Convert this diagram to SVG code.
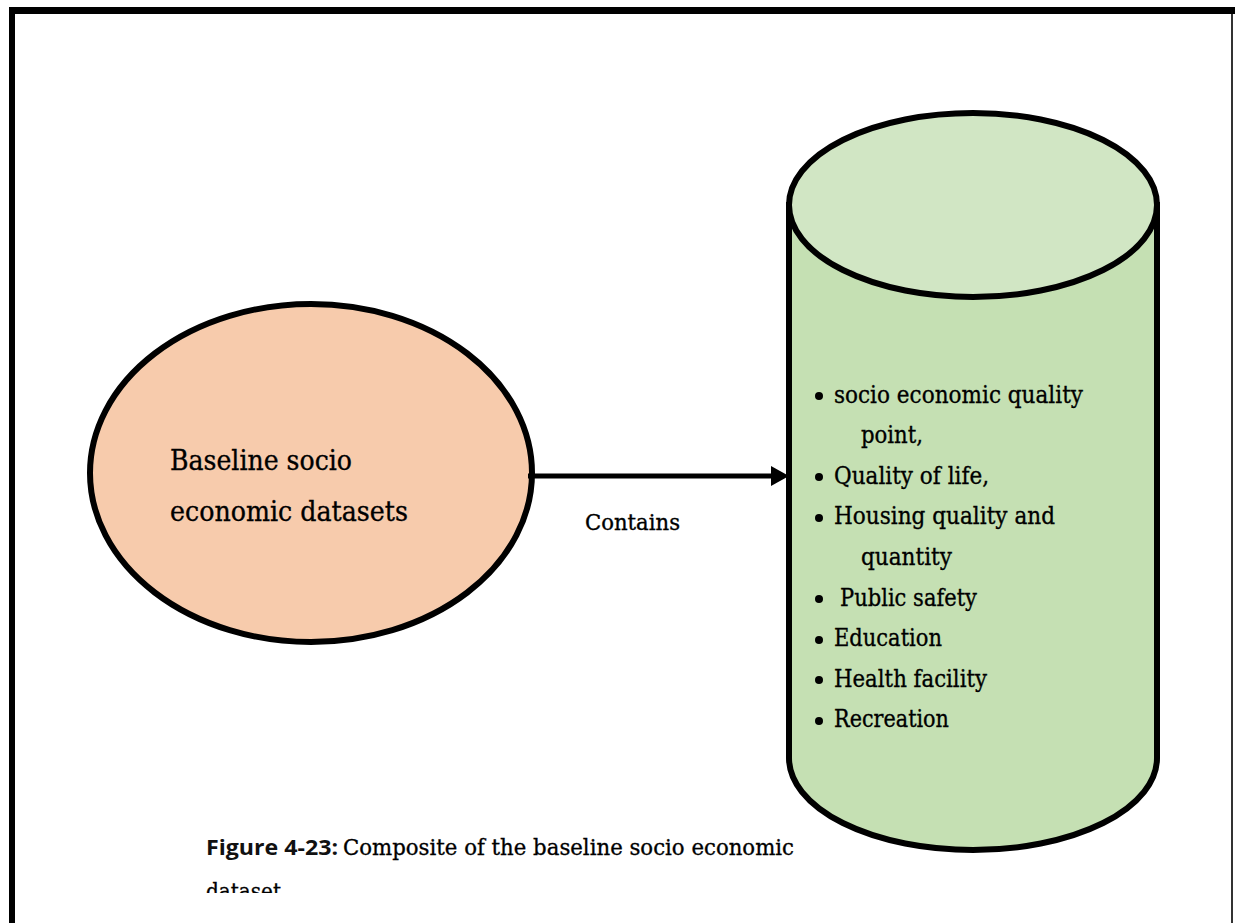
<svg xmlns="http://www.w3.org/2000/svg" width="1235" height="923" viewBox="0 0 1235 923">
  <style>
    .serif { font-family: "DejaVu Serif", "Liberation Serif", serif; fill: #000; stroke: #000; stroke-width: 0.35; }
    .node-text { font-size: 28px; }
    .list { font-size: 25px; }
    .caption-bold { font-family: "Open Sans", "Liberation Sans", sans-serif; font-weight: bold; font-size: 21px; fill: #111; }
    .outline { stroke: #000; stroke-width: 6; }
  </style>
  <defs>
    <marker id="arrowhead" markerWidth="4" markerHeight="4" refX="0" refY="2" orient="auto" markerUnits="strokeWidth">
      <path d="M0,0 L3.6,2 L0,4 Z" fill="#000"/>
    </marker>
    <clipPath id="captionClip">
      <rect x="0" y="820" width="1235" height="73"/>
    </clipPath>
  </defs>

  <rect width="1235" height="923" fill="#fff"/>

  <!-- page frame -->
  <g id="frame">
    <rect x="9" y="7" width="1226" height="7" fill="#000"/>
    <rect x="9" y="7" width="6" height="916" fill="#000"/>
    <rect x="1231" y="14" width="2" height="909" fill="#333"/>
  </g>

  <!-- source dataset -->
  <g id="node-baseline">
    <ellipse cx="311" cy="473" rx="221" ry="169" fill="#f7cbac" class="outline"/>
    <text class="serif node-text" x="170" y="470" textLength="182" lengthAdjust="spacingAndGlyphs">Baseline socio</text>
    <text class="serif node-text" x="170" y="521" textLength="238" lengthAdjust="spacingAndGlyphs">economic datasets</text>
  </g>

  <!-- connector -->
  <g id="connectors">
    <line x1="528" y1="476" x2="771" y2="476" stroke="#000" stroke-width="5" marker-end="url(#arrowhead)"/>
    <text class="serif" x="585" y="530" font-size="22" textLength="95" lengthAdjust="spacingAndGlyphs">Contains</text>
  </g>

  <!-- indicator store -->
  <g id="node-indicators">
    <path d="M789 205 L789 758 A184 92 0 0 0 1157 758 L1157 205 Z" fill="#c5e0b3" class="outline"/>
    <ellipse cx="973" cy="205" rx="184" ry="92" fill="#d1e6c4" class="outline"/>
    <g fill="#000">
      <circle cx="819" cy="396" r="4"/>
      <circle cx="819" cy="477" r="4"/>
      <circle cx="819" cy="518" r="4"/>
      <circle cx="819" cy="599" r="4"/>
      <circle cx="819" cy="640" r="4"/>
      <circle cx="819" cy="680" r="4"/>
      <circle cx="819" cy="721" r="4"/>
    </g>
    <text class="serif list" x="834" y="403" textLength="249" lengthAdjust="spacingAndGlyphs">socio economic quality</text>
    <text class="serif list" x="861" y="443" textLength="62" lengthAdjust="spacingAndGlyphs">point,</text>
    <text class="serif list" x="834" y="484" textLength="155" lengthAdjust="spacingAndGlyphs">Quality of life,</text>
    <text class="serif list" x="834" y="524" textLength="221" lengthAdjust="spacingAndGlyphs">Housing quality and</text>
    <text class="serif list" x="861" y="565" textLength="91" lengthAdjust="spacingAndGlyphs">quantity</text>
    <text class="serif list" x="840" y="606" textLength="137" lengthAdjust="spacingAndGlyphs">Public safety</text>
    <text class="serif list" x="834" y="646" textLength="108" lengthAdjust="spacingAndGlyphs">Education</text>
    <text class="serif list" x="834" y="687" textLength="153" lengthAdjust="spacingAndGlyphs">Health facility</text>
    <text class="serif list" x="834" y="727" textLength="115" lengthAdjust="spacingAndGlyphs">Recreation</text>
  </g>

  <!-- caption -->
  <g id="caption" clip-path="url(#captionClip)">
    <text class="caption-bold" x="206" y="855" textLength="132" lengthAdjust="spacingAndGlyphs">Figure 4-23:</text>
    <text class="serif" x="343" y="855" font-size="23" textLength="451" lengthAdjust="spacingAndGlyphs">Composite of the baseline socio economic</text>
    <text class="serif" x="206" y="899" font-size="23" textLength="75" lengthAdjust="spacingAndGlyphs">dataset</text>
  </g>
</svg>
